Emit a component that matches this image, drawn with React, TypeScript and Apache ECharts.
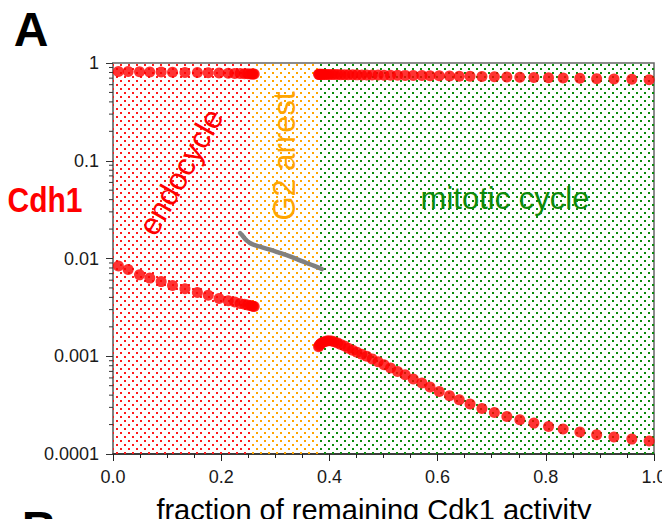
import React, { useEffect, useRef } from "react";
import * as echarts from "echarts";

// ---- data ----
const xTickLabels = ["0.0", "0.2", "0.4", "0.6", "0.8", "1.0"];
const yTickLabels = ["0.0001", "0.001", "0.01", "0.1", "1"];
const regionBounds = [0, 0.257, 0.379, 1];
const regionColors = ["#ff1a1a", "#ffa500", "#0b8a0b"];

const endoX = [0.010, 0.028, 0.049, 0.068, 0.089, 0.110, 0.133, 0.156, 0.176, 0.196, 0.213, 0.225, 0.235, 0.243, 0.249, 0.254, 0.257, 0.259, 0.261];
const endoUpper = [0.82, 0.82, 0.815, 0.81, 0.81, 0.805, 0.80, 0.80, 0.795, 0.79, 0.785, 0.78, 0.78, 0.775, 0.775, 0.77, 0.77, 0.77, 0.77];
const endoLower = [0.0084, 0.0077, 0.0068, 0.0063, 0.0058, 0.0053, 0.0049, 0.0045, 0.0042, 0.0039, 0.0037, 0.00358, 0.00347, 0.0034, 0.00335, 0.0033, 0.00327, 0.00325, 0.00323];

const mitoX = [0.380, 0.381, 0.383, 0.385, 0.388, 0.391, 0.395, 0.399, 0.404, 0.409, 0.415, 0.421, 0.428, 0.435, 0.443, 0.451, 0.460, 0.469, 0.479, 0.490, 0.501, 0.513, 0.526, 0.540, 0.555, 0.571, 0.586, 0.603, 0.622, 0.640, 0.660, 0.682, 0.705, 0.728, 0.752, 0.778, 0.805, 0.832, 0.863, 0.894, 0.926, 0.959, 0.991];
const mitoUpper = [0.765, 0.765, 0.765, 0.765, 0.765, 0.764, 0.764, 0.763, 0.763, 0.762, 0.761, 0.760, 0.759, 0.758, 0.757, 0.756, 0.755, 0.754, 0.753, 0.752, 0.751, 0.750, 0.749, 0.747, 0.745, 0.743, 0.741, 0.739, 0.736, 0.733, 0.730, 0.727, 0.723, 0.719, 0.715, 0.711, 0.706, 0.702, 0.697, 0.692, 0.686, 0.681, 0.675];
const mitoLower = [1.25e-3, 1.29e-3, 1.33e-3, 1.36e-3, 1.39e-3, 1.41e-3, 1.43e-3, 1.44e-3, 1.43e-3, 1.41e-3, 1.37e-3, 1.32e-3, 1.27e-3, 1.21e-3, 1.15e-3, 1.10e-3, 1.05e-3, 1.00e-3, 9.4e-4, 8.8e-4, 8.2e-4, 7.6e-4, 7.0e-4, 6.48e-4, 5.85e-4, 5.32e-4, 4.84e-4, 4.37e-4, 3.95e-4, 3.59e-4, 3.24e-4, 2.92e-4, 2.66e-4, 2.42e-4, 2.24e-4, 2.07e-4, 1.91e-4, 1.80e-4, 1.68e-4, 1.57e-4, 1.49e-4, 1.42e-4, 1.36e-4];

const grayX = [0.235, 0.238, 0.241, 0.246, 0.253, 0.262, 0.272, 0.290, 0.308, 0.327, 0.343, 0.358, 0.372, 0.386];
const grayY = [0.0182, 0.0175, 0.0167, 0.0155, 0.0144, 0.0137, 0.0132, 0.0123, 0.0114, 0.0105, 0.0097, 0.0090, 0.0084, 0.0078];

const minorMantissas = [2, 3, 4, 5, 6, 7, 8, 9];
const decades = [0.0001, 0.001, 0.01, 0.1];

const FONT = "'Liberation Sans', Arial, sans-serif";

function makeDots(color: string) {
  const c = document.createElement("canvas");
  c.width = 8;
  c.height = 8;
  const ctx = c.getContext("2d")!;
  ctx.fillStyle = color;
  ctx.fillRect(0, 0, 2, 2);
  ctx.fillRect(4, 4, 2, 2);
  return c;
}

const zip = (xs: number[], ys: number[]) => xs.map((x, i) => [x, ys[i]]);

export default function App() {
  const ref = useRef<HTMLDivElement>(null);
  useEffect(() => {
    if (!ref.current) return;
    const chart = echarts.init(ref.current, null, { renderer: "svg" });
    const minorTicks: number[][] = [];
    decades.forEach((d) => minorMantissas.forEach((m) => minorTicks.push([0, m * d])));

    const areas = regionColors.map((col, i) => [
      {
        xAxis: regionBounds[i],
        itemStyle: {
          color: { image: makeDots(col), repeat: "repeat", imageWidth: 8, imageHeight: 8 },
          opacity: 1,
        },
      },
      { xAxis: regionBounds[i + 1] },
    ]);

    const dotStyle = { color: "#ff0000" };
    const option: any = {
      animation: false,
      backgroundColor: "#ffffff",
      grid: { left: 113, right: 16, top: 63, bottom: 73, show: true, borderColor: "#666", borderWidth: 1.5, backgroundColor: "transparent" },
      xAxis: {
        type: "value",
        min: 0,
        max: 1,
        interval: 0.2,
        splitLine: { show: false },
        axisLine: { show: true, lineStyle: { color: "#222", width: 1.5 } },
        axisTick: { show: true, length: 7, lineStyle: { color: "#222" } },
        minorTick: { show: true, splitNumber: 4, length: 4, lineStyle: { color: "#222" } },
        axisLabel: {
          color: "#1a1a1a",
          fontSize: 18,
          fontFamily: FONT,
          margin: 14,
          formatter: (v: number) => xTickLabels[Math.round(v / 0.2)] ?? "",
        },
      },
      yAxis: {
        type: "log",
        logBase: 10,
        min: 0.0001,
        max: 1,
        splitLine: { show: false },
        axisLine: { show: true, lineStyle: { color: "#808080", width: 2 } },
        axisTick: { show: true, length: 7, lineStyle: { color: "#333" } },
        axisLabel: {
          color: "#1a1a1a",
          fontSize: 18,
          fontFamily: FONT,
          margin: 14,
          formatter: (v: number) => yTickLabels[Math.round(Math.log10(v)) + 4] ?? "",
        },
      },
      series: [
        {
          type: "line",
          data: [],
          silent: true,
          z: 1,
          markArea: { silent: true, data: areas },
        },
        {
          type: "custom",
          coordinateSystem: "cartesian2d",
          clip: false,
          silent: true,
          z: 3,
          data: minorTicks,
          renderItem: (params: any, api: any) => {
            const p = api.coord([api.value(0), api.value(1)]);
            return {
              type: "line",
              shape: { x1: p[0] - 4, y1: p[1], x2: p[0], y2: p[1] },
              style: { stroke: "#333", lineWidth: 1 },
            };
          },
        },
        {
          type: "line",
          data: zip(grayX, grayY),
          showSymbol: false,
          smooth: true,
          lineStyle: { color: "#808080", width: 4.5, cap: "round" },
          z: 4,
        },
        { type: "scatter", data: zip(endoX, endoUpper), symbolSize: 11, itemStyle: dotStyle, z: 5 },
        { type: "scatter", data: zip(endoX, endoLower), symbolSize: 11, itemStyle: dotStyle, z: 5 },
        { type: "scatter", data: zip(mitoX, mitoUpper), symbolSize: 11, itemStyle: dotStyle, z: 5 },
        { type: "scatter", data: zip(mitoX, mitoLower), symbolSize: 11, itemStyle: dotStyle, z: 5 },
      ],
      graphic: [
        { type: "text", x: 31, y: 29, style: { text: "A", fill: "#000", font: `bold 48px ${FONT}`, align: "center", verticalAlign: "middle" } },
        { type: "text", x: 39, y: 528, style: { text: "B", fill: "#000", font: `bold 48px ${FONT}`, align: "center", verticalAlign: "middle" } },
        { type: "text", x: 45, y: 200, scaleY: 1.15, style: { text: "Cdh1", fill: "#ff0000", font: `bold 30px ${FONT}`, align: "center", verticalAlign: "middle" } },
        { type: "text", x: 181, y: 172, rotation: (60.5 * Math.PI) / 180, z: 10, style: { text: "endocycle", fill: "#ff0000", font: `31px ${FONT}`, align: "center", verticalAlign: "middle" } },
        { type: "text", x: 284, y: 156, rotation: Math.PI / 2, z: 10, style: { text: "G2 arrest", fill: "#ffa500", font: `31px ${FONT}`, align: "center", verticalAlign: "middle" } },
        { type: "text", x: 505, y: 198, z: 10, style: { text: "mitotic cycle", fill: "#0b8a0b", font: `31px ${FONT}`, align: "center", verticalAlign: "middle" } },
        { type: "text", x: 374, y: 510, style: { text: "fraction of remaining Cdk1 activity", fill: "#000", font: `29px ${FONT}`, align: "center", verticalAlign: "middle" } },
      ],
    };
    chart.setOption(option);
    return () => chart.dispose();
  }, []);
  return <div ref={ref} style={{ width: 670, height: 527, margin: -8 }} />;
}
